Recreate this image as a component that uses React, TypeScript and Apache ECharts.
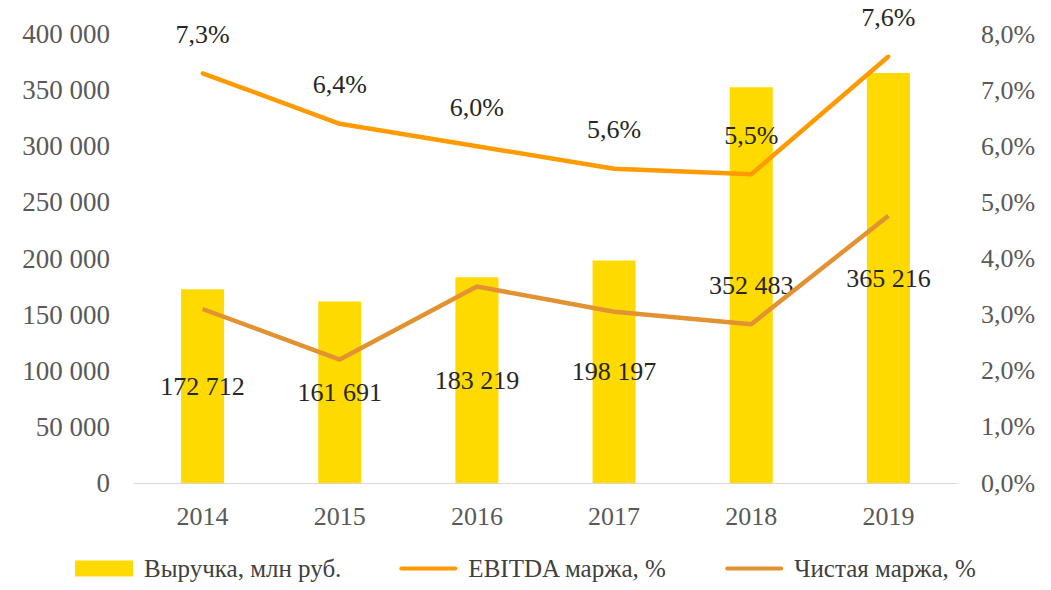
import React, { useEffect, useRef } from "react";
import * as echarts from "echarts";

const years = ["2014", "2015", "2016", "2017", "2018", "2019"];
const revenue = [172712, 161691, 183219, 198197, 352483, 365216];
const ebitdaMargin = [7.3, 6.4, 6.0, 5.6, 5.5, 7.6];
const netMargin = [3.1, 2.2, 3.5, 3.05, 2.83, 4.76];

const FONT = "'Liberation Serif', 'Times New Roman', serif";
const LINE_ICON = "path://M2,0 L58,0 A2,2 0 0 1 58,4 L2,4 A2,2 0 0 1 2,0 Z";

const fmtThousands = (v: number) =>
  String(Math.round(v)).replace(/\B(?=(\d{3})+(?!\d))/g, " ");
const fmtPct = (v: number) => v.toFixed(1).replace(".", ",") + "%";

export default function App() {
  const ref = useRef<HTMLDivElement>(null);
  useEffect(() => {
    if (!ref.current) return;
    const chart = echarts.init(ref.current, undefined, { renderer: "svg" });
    chart.setOption({
      animation: false,
      backgroundColor: "#ffffff",
      textStyle: { fontFamily: FONT },
      grid: { left: 134, right: 94, top: 34, bottom: 107 },
      legend: {
        bottom: 4,
        left: "center",
        itemWidth: 58,
        itemHeight: 16,
        itemGap: 58,
        textStyle: { fontFamily: FONT, fontSize: 25, color: "#404040", padding: [0, 0, 0, 6] },
        data: [
          { name: "Выручка, млн руб.", icon: "rect" },
          { name: "EBITDA маржа, %", icon: LINE_ICON, itemStyle: { color: "#FF9A00" } },
          { name: "Чистая маржа, %", icon: LINE_ICON, itemStyle: { color: "#E39232" } },
        ],
      },
      xAxis: {
        type: "category",
        data: years,
        axisLine: { show: true, lineStyle: { color: "#d9d9d9", width: 1 } },
        axisTick: { show: false },
        axisLabel: { fontFamily: FONT, fontSize: 26, color: "#595959", margin: 20 },
      },
      yAxis: [
        {
          type: "value",
          min: 0,
          max: 400000,
          interval: 50000,
          splitLine: { show: false },
          axisLine: { show: false },
          axisTick: { show: false },
          axisLabel: {
            fontFamily: FONT,
            fontSize: 27,
            color: "#595959",
            margin: 24,
            formatter: fmtThousands,
          },
        },
        {
          type: "value",
          min: 0,
          max: 8,
          interval: 1,
          splitLine: { show: false },
          axisLine: { show: false },
          axisTick: { show: false },
          axisLabel: {
            fontFamily: FONT,
            fontSize: 26,
            color: "#595959",
            margin: 24,
            formatter: fmtPct,
          },
        },
      ],
      series: [
        {
          name: "Выручка, млн руб.",
          type: "bar",
          data: revenue,
          barWidth: 43,
          itemStyle: { color: "#FFDA00" },
          label: {
            show: true,
            position: "inside",
            fontFamily: FONT,
            fontSize: 26,
            color: "#262626",
            formatter: (p: any) => fmtThousands(p.value),
          },
          z: 1,
        },
        {
          name: "EBITDA маржа, %",
          type: "line",
          yAxisIndex: 1,
          data: ebitdaMargin,
          symbol: "circle",
          symbolSize: 4,
          showSymbol: true,
          lineStyle: { color: "#FF9A00", width: 4.5 },
          itemStyle: { color: "#FF9A00", borderWidth: 0 },
          label: {
            show: true,
            position: "top",
            distance: 24,
            fontFamily: FONT,
            fontSize: 26,
            color: "#262626",
            formatter: (p: any) => fmtPct(p.value),
          },
          labelLayout: { hideOverlap: false },
          z: 3,
        },
        {
          name: "Чистая маржа, %",
          type: "line",
          yAxisIndex: 1,
          data: netMargin,
          symbol: "none",
          lineStyle: { color: "#E39232", width: 4.5 },
          itemStyle: { color: "#E39232" },
          z: 2,
        },
      ],
    });
    return () => chart.dispose();
  }, []);
  return <div ref={ref} style={{ width: 1051, height: 590, position: "absolute", left: 0, top: 0 }} />;
}
